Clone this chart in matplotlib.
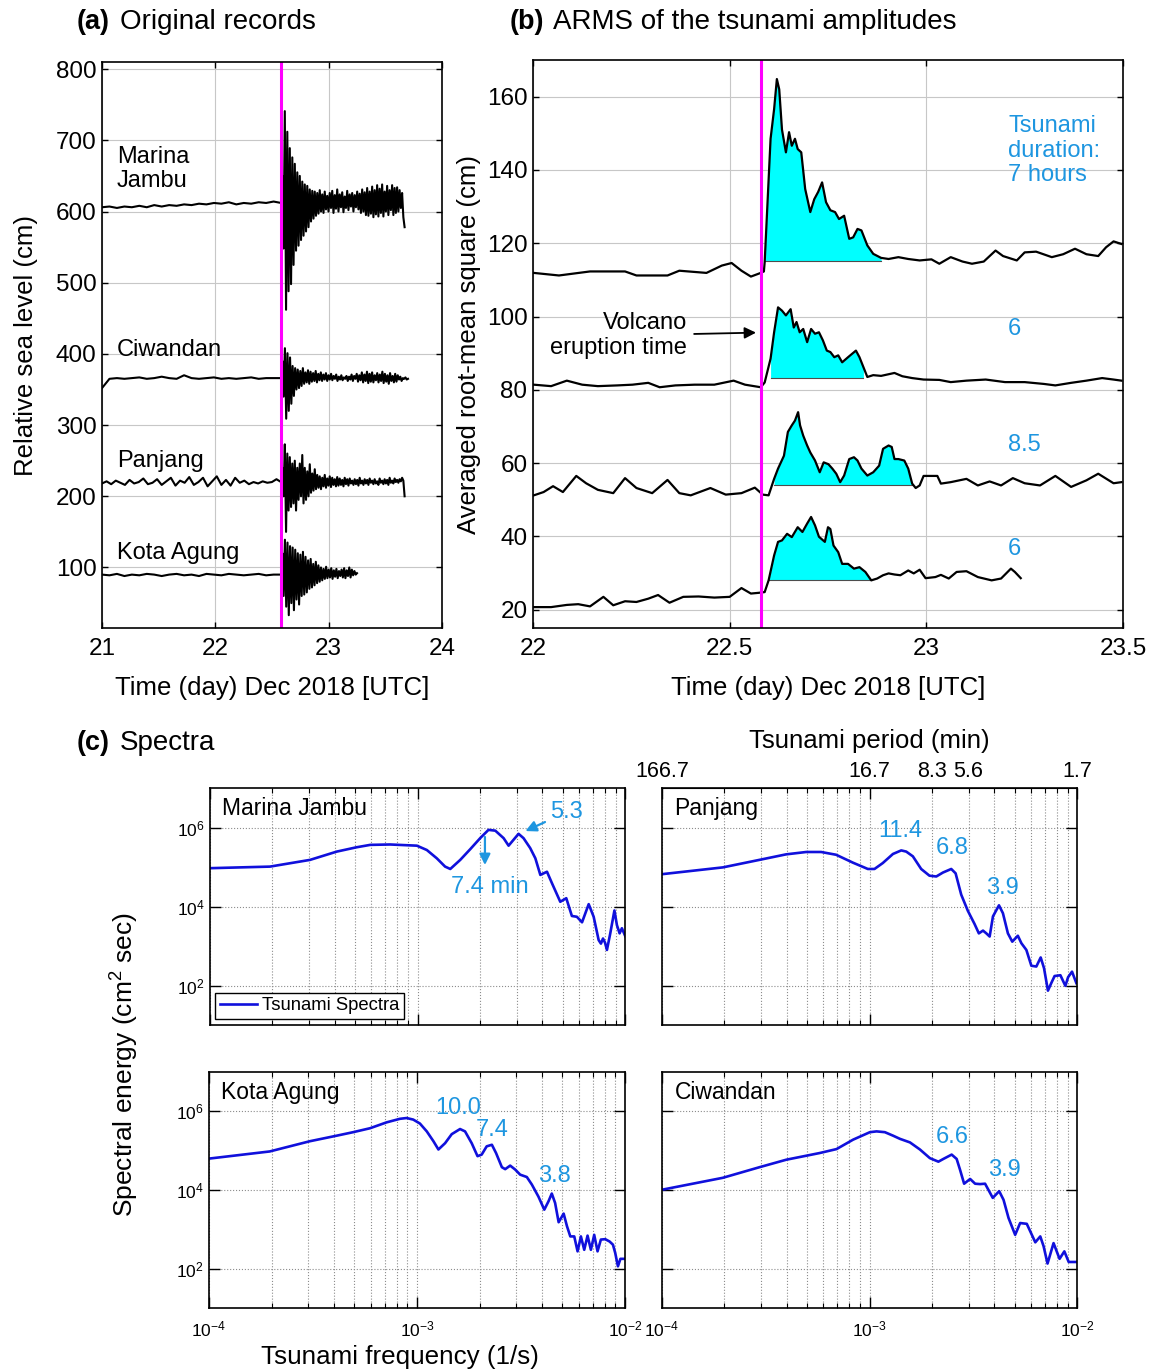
import numpy as np
import matplotlib.pyplot as plt
from matplotlib.ticker import NullLocator, NullFormatter, LogLocator

plt.rcParams['font.family'] = ['Liberation Sans', 'DejaVu Sans']
plt.rcParams['mathtext.fontset'] = 'custom'
plt.rcParams['mathtext.rm'] = 'Liberation Sans'
plt.rcParams['mathtext.it'] = 'Liberation Sans:italic'
plt.rcParams['mathtext.bf'] = 'Liberation Sans:bold'

MAGENTA = '#ff00ff'
CYAN = '#00ffff'
BLUE_LINE = '#1010dc'
BLUE_TXT = '#1e96e0'

# ---------------- (a) original records (cm) ----------------
eruption = 22.58

mj_quiet = [606, 607, 605, 607, 606, 608, 606, 609, 607, 609, 608, 610, 609, 611, 610,
            612, 611, 613, 610, 612, 611, 613, 612, 614, 612]
mj_active = [650, 548, 741, 462, 712, 488, 689, 498, 676, 525, 667, 545, 655, 552, 650,
             560, 642, 566, 638, 572, 636, 578, 631, 586, 629, 590, 628, 594, 626, 597,
             630, 600, 624, 598, 628, 603, 622, 600, 626, 605, 629, 598, 623, 604, 631,
             600, 624, 606, 627, 599, 621, 605, 629, 602, 624, 607, 626, 600, 623, 606,
             628, 603, 625, 598, 631, 600, 627, 595, 633, 594, 628, 597, 635, 592, 630,
             596, 637, 593, 632, 598, 638, 593, 628, 600, 636, 595, 630, 602, 637, 595,
             633, 598, 634, 600, 630, 605, 626, 592, 578]
mj_end = 23.67

ciw_quiet = [352, 365, 366, 365, 366, 367, 365, 366, 368, 366, 365, 370, 366, 365, 366,
             367, 365, 366, 365, 366, 367, 365, 366, 366, 366]
ciw_active = [390, 340, 408, 309, 401, 320, 395, 330, 383, 341, 380, 350, 378, 352, 376,
              355, 380, 358, 374, 360, 377, 358, 375, 361, 373, 362, 376, 360, 372, 363,
              374, 362, 371, 364, 373, 362, 370, 364, 372, 363, 369, 365, 371, 362, 368,
              364, 370, 363, 367, 365, 369, 362, 368, 364, 371, 362, 369, 365, 372, 361,
              370, 363, 374, 360, 371, 362, 375, 359, 372, 361, 374, 360, 370, 363, 373,
              360, 371, 362, 375, 359, 372, 361, 370, 358, 373, 362, 369, 360, 372, 361,
              370, 364, 368, 362, 366, 365, 367, 364, 365]
ciw_end = 23.70

pj_quiet = [218, 221, 217, 222, 219, 216, 223, 218, 220, 225, 217, 219, 224, 216, 221,
            226, 215, 222, 219, 227, 216, 220, 226, 214, 221, 228, 216, 223, 215, 226,
            219, 222, 217, 220, 218, 221, 219, 220, 224, 220]
pj_active = [240, 200, 273, 150, 260, 180, 255, 185, 246, 190, 250, 180, 240, 195, 246,
             200, 258, 190, 240, 195, 235, 200, 245, 205, 232, 208, 238, 210, 230, 212,
             228, 210, 226, 214, 230, 212, 225, 215, 228, 213, 226, 216, 224, 214, 227,
             215, 225, 216, 223, 214, 226, 217, 224, 215, 225, 218, 222, 216, 224, 217,
             223, 215, 226, 218, 222, 216, 224, 218, 223, 216, 225, 219, 222, 217, 224,
             218, 221, 216, 225, 219, 222, 217, 224, 218, 223, 216, 226, 219, 222, 218,
             225, 220, 223, 219, 224, 221, 226, 222, 200]
pj_end = 23.67

ka_quiet = [90, 89, 91, 88, 90, 89, 91, 90, 88, 90, 91, 89, 90, 88, 91, 90, 89, 91, 90,
            89, 90, 91, 89, 90, 90]
ka_active = [120, 60, 139, 45, 135, 33, 130, 50, 128, 40, 125, 55, 120, 48, 118, 60, 122,
             62, 115, 65, 110, 70, 112, 72, 105, 75, 108, 78, 103, 80, 100, 82, 98, 84,
             101, 85, 97, 86, 99, 84, 96, 87, 98, 85, 95, 88, 97, 86, 99, 85, 96, 88, 100,
             86, 97, 89, 95, 90, 92]
ka_end = 23.25

records = [(mj_quiet, mj_active, mj_end), (ciw_quiet, ciw_active, ciw_end),
           (pj_quiet, pj_active, pj_end), (ka_quiet, ka_active, ka_end)]
station_names_a = ['Marina\nJambu', 'Ciwandan', 'Panjang', 'Kota Agung']
station_label_y = [660, 406, 250, 120]

# ---------------- (b) ARMS (cm) ----------------
arms1_t = [22.002, 22.066, 22.145, 22.234, 22.263, 22.342, 22.372, 22.441, 22.480, 22.505,
           22.530, 22.554, 22.579, 22.587, 22.589, 22.604, 22.613, 22.620, 22.626, 22.633,
           22.643, 22.651, 22.658, 22.666, 22.673, 22.682, 22.692, 22.705, 22.715, 22.725,
           22.735, 22.745, 22.756, 22.768, 22.778, 22.791, 22.804, 22.814, 22.825, 22.835,
           22.850, 22.865, 22.885, 22.904, 22.929, 22.954, 22.983, 23.013, 23.033, 23.062,
           23.092, 23.116, 23.146, 23.176, 23.195, 23.230, 23.250, 23.279, 23.319, 23.348,
           23.378, 23.407, 23.437, 23.457, 23.476, 23.496]
arms1_v = [111.9, 111.2, 112.3, 112.3, 111.2, 111.2, 112.5, 111.9, 113.9, 114.6,
           112.5, 110.9, 111.9, 112.3, 114.8, 148.5, 156.6, 164.8, 162.0, 151.0,
           144.8, 150.3, 146.6, 148.5, 145.7, 144.8, 134.8, 128.5, 132.0, 134.0,
           136.6, 131.2, 129.0, 128.5, 126.6, 127.5, 121.2, 121.6, 123.9, 123.5,
           119.4, 117.1, 116.0, 115.7, 116.2, 115.7, 115.3, 115.6, 114.4, 116.2,
           115.0, 114.4, 115.0, 118.0, 116.5, 115.3, 117.5, 117.7, 116.2, 117.0,
           118.5, 117.0, 116.5, 118.9, 120.5, 119.8]

arms2_t = [22.002, 22.046, 22.086, 22.125, 22.165, 22.214, 22.253, 22.293, 22.322, 22.362,
           22.411, 22.461, 22.510, 22.539, 22.579, 22.589, 22.604, 22.613, 22.623, 22.633,
           22.643, 22.655, 22.663, 22.670, 22.678, 22.687, 22.697, 22.707, 22.717, 22.727,
           22.737, 22.747, 22.756, 22.766, 22.776, 22.786, 22.801, 22.821, 22.830, 22.840,
           22.850, 22.865, 22.885, 22.919, 22.939, 22.964, 22.993, 23.033, 23.062, 23.102,
           23.151, 23.200, 23.250, 23.299, 23.328, 23.368, 23.407, 23.447, 23.476, 23.496]
arms2_v = [81.4, 81.0, 82.5, 81.4, 81.0, 81.2, 81.4, 81.9, 80.7, 81.2,
           81.4, 81.4, 82.5, 81.4, 80.7, 82.0, 88.5, 95.7, 102.5, 101.6,
           100.3, 102.0, 97.0, 98.5, 95.7, 96.6, 93.0, 96.6, 95.3, 95.7,
           93.5, 90.7, 90.3, 88.9, 89.4, 87.5, 88.9, 90.7, 88.9, 86.2,
           83.5, 84.0, 83.8, 84.6, 83.7, 83.2, 82.8, 82.7, 82.1, 82.5,
           82.8, 82.1, 82.1, 81.6, 81.2, 81.9, 82.5, 83.2, 82.8, 82.5]

arms3_t = [22.002, 22.027, 22.051, 22.076, 22.110, 22.135, 22.165, 22.204, 22.234, 22.263,
           22.303, 22.342, 22.372, 22.401, 22.451, 22.490, 22.530, 22.564, 22.584, 22.599,
           22.613, 22.623, 22.638, 22.648, 22.658, 22.666, 22.674, 22.679, 22.687, 22.697,
           22.705, 22.717, 22.729, 22.739, 22.751, 22.761, 22.771, 22.781, 22.791, 22.804,
           22.816, 22.825, 22.835, 22.850, 22.865, 22.880, 22.890, 22.904, 22.912, 22.919,
           22.929, 22.944, 22.954, 22.964, 22.973, 22.983, 22.993, 23.028, 23.037, 23.062,
           23.102, 23.131, 23.161, 23.190, 23.220, 23.250, 23.289, 23.328, 23.368, 23.407,
           23.437, 23.476, 23.496]
arms3_v = [51.2, 52.1, 53.7, 52.1, 56.5, 54.5, 52.7, 51.8, 55.9, 53.2,
           51.8, 55.4, 51.8, 51.2, 53.2, 51.4, 51.8, 53.3, 51.4, 51.2,
           55.7, 58.5, 62.0, 68.5, 70.3, 71.6, 73.9, 70.3, 67.5, 64.8,
           62.9, 60.7, 57.5, 60.2, 59.7, 58.5, 57.1, 54.8, 56.6, 61.1,
           61.6, 60.7, 58.5, 56.6, 57.5, 59.3, 63.9, 64.8, 64.4, 61.1,
           61.1, 60.7, 58.5, 54.4, 53.2, 53.9, 56.5, 56.5, 54.4, 54.8,
           55.7, 53.9, 55.0, 53.9, 55.9, 54.5, 53.9, 56.5, 53.5, 55.3,
           57.1, 54.5, 54.8]

arms4_t = [22.002, 22.046, 22.086, 22.115, 22.145, 22.179, 22.204, 22.234, 22.263, 22.293,
           22.318, 22.347, 22.382, 22.421, 22.461, 22.500, 22.530, 22.554, 22.574, 22.589,
           22.599, 22.613, 22.623, 22.633, 22.646, 22.658, 22.673, 22.685, 22.697, 22.707,
           22.717, 22.727, 22.742, 22.750, 22.756, 22.764, 22.776, 22.786, 22.801, 22.816,
           22.830, 22.845, 22.860, 22.875, 22.890, 22.904, 22.919, 22.934, 22.954, 22.968,
           22.983, 22.998, 23.023, 23.037, 23.057, 23.077, 23.102, 23.131, 23.166, 23.190,
           23.215, 23.225, 23.240]
arms4_v = [20.7, 20.7, 21.3, 21.5, 20.9, 23.5, 21.2, 22.3, 22.1, 23.0,
           24.0, 21.9, 23.5, 23.6, 23.3, 23.5, 25.9, 24.4, 24.6, 24.8,
           28.0, 34.8, 38.5, 38.9, 40.7, 39.8, 42.5, 41.2, 43.5, 45.3,
           43.0, 39.9, 38.5, 42.5, 42.0, 37.5, 35.7, 32.5, 32.5, 31.2,
           31.6, 30.3, 28.0, 28.5, 29.4, 29.9, 29.6, 29.4, 30.7, 29.9,
           30.9, 28.6, 28.9, 29.5, 28.5, 30.3, 30.5, 28.9, 28.0, 28.5,
           31.2, 30.3, 28.6]

# tsunami window: start, end, base level
arms_fill = [(22.589, 22.890, 115.2), (22.604, 22.848, 83.3),
             (22.613, 22.966, 53.9), (22.599, 22.860, 28.0)]
durations = ['Tsunami\nduration:\n7 hours', '6', '8.5', '6']
duration_y = [145.3, 96.5, 64.9, 36.6]

# ---------------- (c) spectra: log10 f (1/s), log10 E (cm^2 s) ----------------
mj_logf = [-4.0, -3.711, -3.518, -3.389, -3.293, -3.228, -3.132, -3.003, -2.955, -2.907,
           -2.867, -2.842, -2.794, -2.746, -2.698, -2.658, -2.625, -2.585, -2.561, -2.537,
           -2.513, -2.489, -2.457, -2.432, -2.408, -2.376, -2.352, -2.312, -2.283, -2.256,
           -2.232, -2.207, -2.175, -2.151, -2.127, -2.116, -2.106, -2.096, -2.087, -2.071,
           -2.051, -2.039, -2.026, -2.015, -1.998]
mj_logE = [4.97, 5.01, 5.18, 5.39, 5.50, 5.56, 5.57, 5.54, 5.43, 5.22,
           5.01, 4.95, 5.18, 5.45, 5.73, 5.94, 5.92, 5.73, 5.54, 5.69,
           5.84, 5.73, 5.48, 5.22, 4.80, 4.88, 4.59, 4.12, 4.21, 3.76,
           3.74, 3.60, 4.06, 3.74, 3.15, 3.06, 3.19, 3.08, 2.90, 3.32,
           3.90, 3.53, 3.32, 3.45, 3.24]

pj_logf = [-3.997, -3.707, -3.531, -3.402, -3.305, -3.233, -3.161, -3.080, -3.008, -2.976,
           -2.936, -2.887, -2.847, -2.823, -2.791, -2.751, -2.711, -2.678, -2.646, -2.606,
           -2.585, -2.558, -2.526, -2.494, -2.473, -2.453, -2.437, -2.421, -2.405, -2.376,
           -2.357, -2.333, -2.312, -2.285, -2.268, -2.244, -2.220, -2.196, -2.175, -2.159,
           -2.140, -2.124, -2.108, -2.080, -2.056, -2.043, -2.024, -2.003]
pj_logE = [4.82, 4.99, 5.18, 5.32, 5.38, 5.38, 5.31, 5.11, 4.95, 4.95,
           5.10, 5.33, 5.42, 5.39, 5.27, 4.95, 4.78, 4.76, 4.86, 4.95,
           4.84, 4.30, 3.89, 3.56, 3.32, 3.39, 3.32, 3.24, 3.75, 4.03,
           3.83, 3.32, 3.11, 3.26, 3.07, 2.90, 2.50, 2.48, 2.71, 2.44,
           1.87, 2.06, 2.24, 2.26, 1.99, 2.21, 2.35, 2.06]

ka_logf = [-3.997, -3.708, -3.515, -3.387, -3.307, -3.226, -3.146, -3.082, -3.050, -3.018,
           -2.986, -2.953, -2.921, -2.897, -2.865, -2.833, -2.793, -2.769, -2.737, -2.709,
           -2.689, -2.665, -2.640, -2.620, -2.592, -2.576, -2.552, -2.528, -2.504, -2.472,
           -2.448, -2.416, -2.388, -2.368, -2.352, -2.336, -2.319, -2.295, -2.279, -2.263,
           -2.244, -2.228, -2.212, -2.196, -2.180, -2.164, -2.148, -2.132, -2.116, -2.095,
           -2.074, -2.058, -2.047, -2.034, -2.022, -2.003]
ka_logE = [4.80, 4.98, 5.24, 5.38, 5.47, 5.57, 5.72, 5.81, 5.83, 5.79,
           5.69, 5.49, 5.24, 5.03, 5.19, 5.42, 5.55, 5.49, 5.19, 4.86,
           4.90, 5.11, 5.15, 4.94, 4.58, 4.53, 4.62, 4.52, 4.39, 4.33,
           4.14, 3.83, 3.50, 3.71, 3.91, 3.67, 3.18, 3.40, 3.08, 2.82,
           2.82, 2.44, 2.82, 2.48, 2.84, 2.48, 2.86, 2.44, 2.74, 2.75,
           2.69, 2.61, 2.40, 2.06, 2.25, 2.25]

cw_logf = [-3.997, -3.707, -3.530, -3.401, -3.240, -3.159, -3.079, -2.998, -2.966, -2.926,
           -2.886, -2.853, -2.805, -2.757, -2.709, -2.668, -2.644, -2.604, -2.580, -2.564,
           -2.544, -2.515, -2.491, -2.467, -2.443, -2.406, -2.375, -2.354, -2.330, -2.298,
           -2.274, -2.242, -2.201, -2.177, -2.161, -2.142, -2.113, -2.084, -2.061, -2.040,
           -2.000]
cw_logE = [4.01, 4.31, 4.58, 4.77, 4.94, 5.04, 5.28, 5.47, 5.49, 5.47,
           5.38, 5.30, 5.21, 5.03, 4.81, 4.72, 4.79, 4.90, 4.79, 4.52,
           4.16, 4.28, 4.16, 4.15, 4.16, 3.80, 3.97, 3.75, 3.29, 2.86,
           3.16, 3.14, 2.67, 2.82, 2.57, 2.13, 2.65, 2.25, 2.44, 2.17,
           2.17]

# peak labels (period in minutes) at log10 positions
mj_peaks = [('7.4 min', -2.65, 4.49)]
pj_peaks = [('11.4', -2.853, 5.91), ('6.8', -2.60, 5.48), ('3.9', -2.36, 4.47)]
ka_peaks = [('10.0', -2.80, 6.08), ('7.4', -2.64, 5.52), ('3.8', -2.34, 4.35)]
cw_peaks = [('6.6', -2.60, 5.35), ('3.9', -2.35, 4.51)]

period_freq = [1e-4, 1e-3, 2e-3, 3e-3, 1e-2]
period_lbl = ['166.7', '16.7', '8.3', '5.6', '1.7']

W, H = 1158, 1372
fig = plt.figure(figsize=(W / 100, H / 100), dpi=100)


def box(x0, y0, x1, y1):
    return [x0 / W, 1 - y1 / H, (x1 - x0) / W, (y1 - y0) / H]


def style_lin(ax):
    ax.tick_params(direction='in', top=True, right=True, length=4.5, width=1,
                   labelsize=17.5)
    ax.tick_params(axis='x', pad=7)
    ax.tick_params(axis='y', pad=4)
    ax.grid(color='0.78', lw=0.8)
    ax.set_axisbelow(True)
    for s in ax.spines.values():
        s.set_linewidth(1.2)


# ---- panel (a)
ax = fig.add_axes(box(102, 62, 442, 628))
for quiet, active, end in records:
    t = np.concatenate([np.linspace(21.0, eruption, len(quiet)),
                        np.linspace(eruption, end, len(active) + 1)[1:]])
    v = np.array(quiet + active)
    ax.plot(t, v, color='k', lw=1.5)
ax.axvline(eruption, color=MAGENTA, lw=2.2)
for name, y in zip(station_names_a, station_label_y):
    ax.text(21.13, y, name, fontsize=17, va='center', ha='left', linespacing=1.15)
ax.set_xlim(21, 24)
ax.set_ylim(15, 810)
ax.set_xticks([21, 22, 23, 24])
ax.set_yticks(range(100, 801, 100))
style_lin(ax)
ax.set_ylabel('Relative sea level (cm)', fontsize=18.5, labelpad=13)
ax.set_xlabel('Time (day) Dec 2018 [UTC]', fontsize=18.5, labelpad=12)

# ---- panel (b)
ax = fig.add_axes(box(533, 60, 1123, 628))
curves = [(arms1_t, arms1_v), (arms2_t, arms2_v), (arms3_t, arms3_v), (arms4_t, arms4_v)]
for (t, v), (t0, t1, base) in zip(curves, arms_fill):
    t = np.array(t)
    v = np.array(v)
    m = (t >= t0) & (t <= t1)
    ax.fill_between(t[m], v[m], base, color=CYAN, lw=0)
    ax.plot([t[m][0], t[m][-1]], [base, base], color='0.3', lw=0.8)
    ax.plot(t, v, color='k', lw=1.6)
ax.axvline(eruption, color=MAGENTA, lw=2.2)
for txt, y in zip(durations, duration_y):
    ax.text(23.208, y, txt, color=BLUE_TXT, fontsize=17, va='center', ha='left',
            linespacing=1.15)
ax.annotate('Volcano\neruption time', xy=(22.567, 95.6), xytext=(22.392, 94.8),
            fontsize=17, ha='right', va='center', multialignment='right',
            linespacing=1.15,
            arrowprops=dict(arrowstyle='-|>', color='k', lw=1.3, shrinkA=3, shrinkB=0,
                            mutation_scale=17))
ax.set_xlim(22, 23.5)
ax.set_ylim(15, 170)
ax.set_xticks([22, 22.5, 23, 23.5], ['22', '22.5', '23', '23.5'])
ax.set_yticks(range(20, 161, 20))
style_lin(ax)
ax.set_ylabel('Averaged root-mean square (cm)', fontsize=18.5, labelpad=4)
ax.set_xlabel('Time (day) Dec 2018 [UTC]', fontsize=18.5, labelpad=12)

# ---- panel (c)
spectra = [
    (box(210, 788, 625, 1025), mj_logf, mj_logE, 'Marina Jambu', mj_peaks, True, False),
    (box(662, 788, 1077, 1025), pj_logf, pj_logE, 'Panjang', pj_peaks, False, False),
    (box(209, 1072, 625, 1308), ka_logf, ka_logE, 'Kota Agung', ka_peaks, True, True),
    (box(662, 1072, 1077, 1308), cw_logf, cw_logE, 'Ciwandan', cw_peaks, False, True),
]
spec_axes = []
for rect, lf, le, name, peaks, left, bottom in spectra:
    ax = fig.add_axes(rect)
    ax.plot(10 ** np.array(lf), 10 ** np.array(le), color=BLUE_LINE, lw=1.9,
            label='Tsunami Spectra')
    ax.set_xscale('log')
    ax.set_yscale('log')
    ax.set_xlim(1e-4, 1e-2)
    ax.set_ylim(1e1, 1e7)
    ax.set_xticks([1e-4, 1e-3, 1e-2])
    ax.xaxis.set_minor_locator(LogLocator(base=10, subs=np.arange(2, 10)))
    ax.xaxis.set_minor_formatter(NullFormatter())
    ax.set_yticks([1e2, 1e4, 1e6])
    ax.yaxis.set_minor_locator(NullLocator())
    ax.tick_params(which='major', direction='in', top=True, right=True, length=8,
                   width=1, labelsize=12.5, labelleft=left, labelbottom=bottom)
    ax.tick_params(axis='x', which='major', pad=8)
    ax.tick_params(axis='y', which='major', pad=4)
    ax.tick_params(which='minor', direction='in', top=True, length=3.5, width=0.8)
    ax.grid(which='both', axis='x', ls=':', color='0.55', lw=0.8)
    ax.grid(which='major', axis='y', ls=':', color='0.55', lw=0.8)
    for s in ax.spines.values():
        s.set_linewidth(1.2)
    ax.text(0.03, 0.915, name, transform=ax.transAxes, fontsize=16.5, va='center')
    for txt, x, y in peaks:
        ax.text(10 ** x, 10 ** y, txt, color=BLUE_TXT, fontsize=17, ha='center',
                va='center')
    spec_axes.append(ax)

ax = spec_axes[0]
ax.annotate('', xy=(10 ** -2.675, 10 ** 5.05), xytext=(10 ** -2.675, 10 ** 5.76),
            arrowprops=dict(arrowstyle='-|>', color=BLUE_TXT, lw=1.6, shrinkA=0, shrinkB=0,
                            mutation_scale=16))
ax.annotate('5.3', xy=(10 ** -2.48, 10 ** 5.91), xytext=(10 ** -2.36, 10 ** 6.39),
            color=BLUE_TXT, fontsize=17, ha='left', va='center',
            arrowprops=dict(arrowstyle='-|>', color=BLUE_TXT, lw=1.6, shrinkA=2, shrinkB=0,
                            mutation_scale=16))
leg = ax.legend(loc='lower left', bbox_to_anchor=(0.012, 0.025), borderaxespad=0,
                fontsize=13.3, handlelength=2.0, fancybox=False, framealpha=1,
                borderpad=0.25, handletextpad=0.3)
leg.get_frame().set_edgecolor('k')
leg.get_frame().set_linewidth(1.0)

ax = spec_axes[1]
sec = ax.secondary_xaxis('top')
sec.set_xticks(period_freq, period_lbl)
sec.xaxis.set_minor_locator(NullLocator())
sec.tick_params(length=0, labelsize=15.5, pad=4)
sec.set_xlabel('Tsunami period (min)', fontsize=18.5, labelpad=10)

# figure level texts
fig.text(77 / W, 1 - 22 / H, '(a)', fontsize=19.5, fontweight='bold', va='center')
fig.text(120 / W, 1 - 22 / H, 'Original records', fontsize=20, va='center')
fig.text(510 / W, 1 - 22 / H, '(b)', fontsize=19.5, fontweight='bold', va='center')
fig.text(553 / W, 1 - 22 / H, 'ARMS of the tsunami amplitudes', fontsize=20, va='center')
fig.text(77 / W, 1 - 743 / H, '(c)', fontsize=19.5, fontweight='bold', va='center')
fig.text(120 / W, 1 - 743 / H, 'Spectra', fontsize=20, va='center')
fig.text(400 / W, 1 - 1357 / H, 'Tsunami frequency (1/s)', fontsize=18.7,
         ha='center', va='center')
fig.text(125 / W, 1 - 1065 / H, 'Spectral energy (cm$^{2}$ sec)', fontsize=19,
         ha='center', va='center', rotation=90)

fig.savefig('out.png', dpi=100)
